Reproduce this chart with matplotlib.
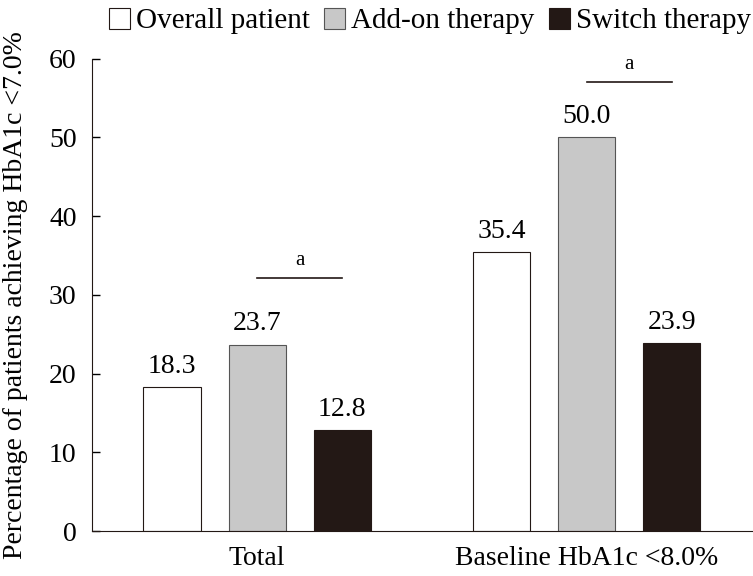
import matplotlib
matplotlib.use('Agg')
import matplotlib.pyplot as plt
from matplotlib.patches import Patch
import numpy as np

plt.rcParams['font.family'] = ['Liberation Serif', 'DejaVu Serif']

# veriler
groups = ['Total', 'Baseline HbA1c <8.0%']
series = ['Overall patient', 'Add-on therapy', 'Switch therapy']
overall = [18.3, 35.4]
addon = [23.7, 50.0]
switch = [12.8, 23.9]
sig_heights = [32.1, 57.0]
sig_labels = ['a', 'a']

colors = ['white', '#c8c8c8', '#231815']
edges = ['#231815', '#555555', '#231815']

fig = plt.figure(figsize=(7.53, 5.76), dpi=100)
ax = fig.add_axes([0.122, 0.078, 0.877, 0.82])

x = np.arange(len(groups))
step = 0.258
width = 0.173
vals = [overall, addon, switch]
for i, v in enumerate(vals):
    pos = x + (i - 1) * step
    ax.bar(pos, v, width, color=colors[i], edgecolor=edges[i], linewidth=0.8)
    for p, val in zip(pos, v):
        ax.annotate(f'{val:.1f}', (p, val), xytext=(0, 6), textcoords='offset points',
                    ha='center', va='bottom', fontsize=20)

# anlamlılık çizgileri
for g, h, lab in zip(x, sig_heights, sig_labels):
    x0 = g
    x1 = g + step
    ax.plot([x0, x1], [h, h], color='#231815', linewidth=1.2)
    ax.annotate(lab, ((x0 + x1) / 2, h), xytext=(0, 6), textcoords='offset points',
                ha='center', va='bottom', fontsize=15)

ax.set_xlim(-0.501, 1.502)
ax.set_ylim(0, 60)
ax.set_yticks(range(0, 61, 10))
ax.set_xticks(x)
ax.set_xticklabels(groups, fontsize=20)
ax.tick_params(axis='x', length=0, pad=11)
ax.tick_params(axis='y', direction='in', length=6, labelsize=20, pad=11, width=1)
ax.spines['top'].set_visible(False)
ax.spines['right'].set_visible(False)
ax.spines['left'].set_color('#231815')
ax.spines['bottom'].set_color('#231815')
ax.set_ylabel('Percentage of patients achieving HbA1c <7.0%', fontsize=20)
ax.yaxis.set_label_coords(-0.097, 0.5)

handles = [Patch(facecolor=colors[i], edgecolor=edges[i], linewidth=0.8) for i in range(3)]
fig.legend(handles, series, loc='upper center', bbox_to_anchor=(0.571, 1.022), ncol=3,
           frameon=False, fontsize=21, handlelength=0.72, handleheight=0.72,
           handletextpad=0.2, columnspacing=0.5, borderpad=0.2)

fig.savefig('out.png', dpi=100)
